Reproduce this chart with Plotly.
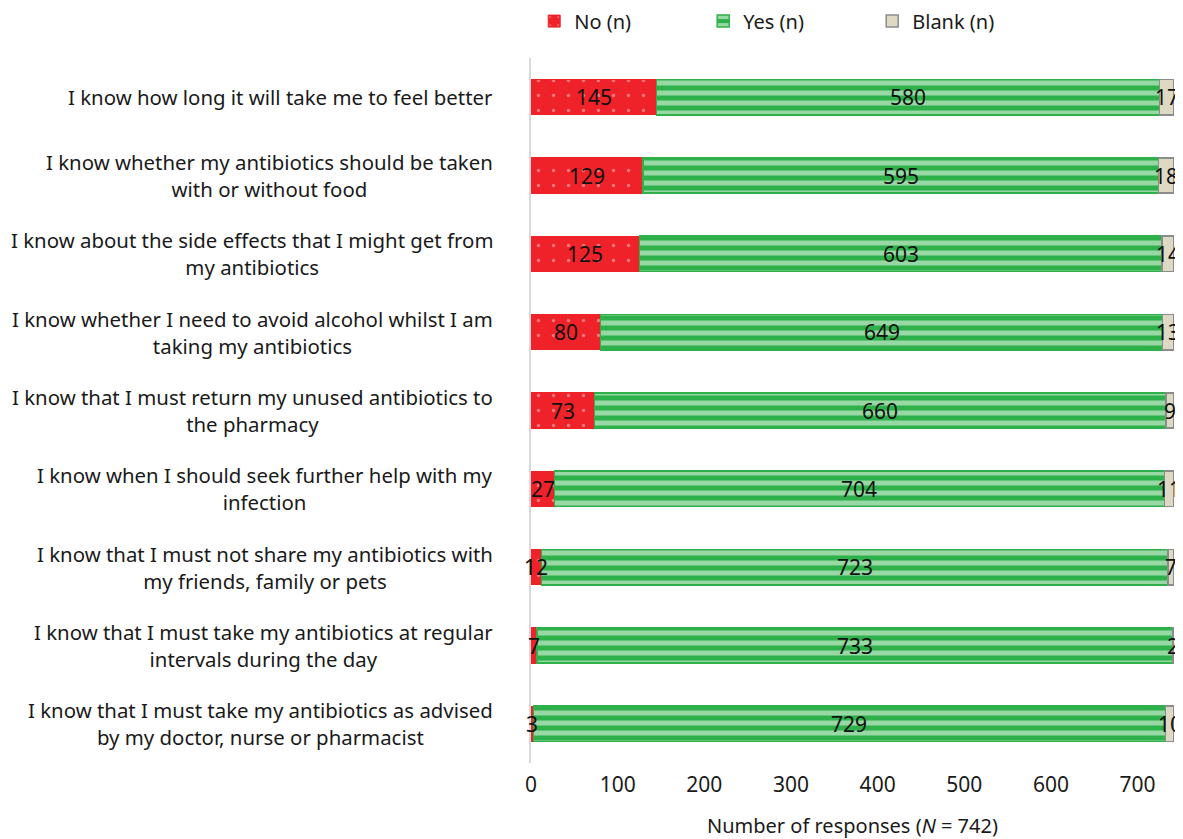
import plotly.graph_objects as go

categories = [
    "I know how long it will take me to feel better",
    "I know whether my antibiotics should be taken<br>with or without food",
    "I know about the side effects that I might get from<br>my antibiotics",
    "I know whether I need to avoid alcohol whilst I am<br>taking my antibiotics",
    "I know that I must return my unused antibiotics to<br>the pharmacy",
    "I know when I should seek further help with my<br>infection",
    "I know that I must not share my antibiotics with<br>my friends, family or pets",
    "I know that I must take my antibiotics at regular<br>intervals during the day",
    "I know that I must take my antibiotics as advised<br>by my doctor, nurse or pharmacist",
]
no_vals = [145, 129, 125, 80, 73, 27, 12, 7, 3]
yes_vals = [580, 595, 603, 649, 660, 704, 723, 733, 729]
blank_vals = [17, 18, 14, 13, 9, 11, 7, 2, 10]
x_ticks = [0, 100, 200, 300, 400, 500, 600, 700]

FONT = "Noto Sans"
TXT = "#1a1a1a"
RED = "#ee2228"
GREEN = "#2eb04a"
BEIGE = "#ddd9c3"

ids = list(range(len(categories)))

fig = go.Figure()
fig.add_trace(go.Bar(
    y=ids, x=no_vals, orientation="h", name="No (n)",
    marker=dict(color=RED, line=dict(color=RED, width=1),
                pattern=dict(shape=".", fgcolor="#fbd0d0", bgcolor=RED, size=15, solidity=0.04)),
    width=0.45, hoverinfo="x",
))
fig.add_trace(go.Bar(
    y=ids, x=yes_vals, orientation="h", name="Yes (n)",
    marker=dict(color=GREEN, line=dict(color=GREEN, width=1.5),
                pattern=dict(shape="-", fgcolor="white", bgcolor=GREEN, size=10, solidity=0.5)),
    width=0.45, hoverinfo="x",
))
fig.add_trace(go.Bar(
    y=ids, x=blank_vals, orientation="h", name="Blank (n)",
    marker=dict(color=BEIGE, line=dict(color="#8c8c8c", width=1.5)),
    width=0.45, hoverinfo="x",
))

# value labels at segment midpoints (annotations so they are not clipped)
for i in ids:
    n, y, b = no_vals[i], yes_vals[i], blank_vals[i]
    for xv, t in ((n / 2, n), (n + y / 2, y), (n + y + b / 2, b)):
        fig.add_annotation(
            x=xv, y=i, xref="x", yref="y", text=str(t), showarrow=False,
            font=dict(family=FONT, size=21, color="#111111"),
        )

# category labels (centered multi-line, right anchored)
for i, c in enumerate(categories):
    fig.add_annotation(
        x=0, xref="paper", y=i, yref="y", text=c, showarrow=False,
        xanchor="right", xshift=-36, align="center",
        font=dict(family=FONT, size=20.4, color=TXT),
    )

fig.update_layout(
    barmode="stack",
    width=1175, height=831,
    margin=dict(l=523, r=9, t=50, b=76, autoexpand=False),
    plot_bgcolor="white", paper_bgcolor="white",
    font=dict(family=FONT, size=20, color=TXT),
    legend=dict(orientation="h", x=0.005, y=1.08, xanchor="left", yanchor="top",
                entrywidth=124, entrywidthmode="pixels", traceorder="normal",
                font=dict(family=FONT, size=20, color=TXT)),
    xaxis=dict(range=[0, 742], tickvals=x_ticks, showgrid=False, zeroline=False,
               showline=False, ticks="", ticklabelstandoff=7,
               tickfont=dict(family=FONT, size=21, color=TXT),
               title=dict(text="Number of responses (<i>N</i> = 742)", standoff=22,
                          font=dict(family=FONT, size=20, color=TXT))),
    yaxis=dict(range=[8.5, -0.5], showticklabels=False, showgrid=False, zeroline=False,
               showline=True, linecolor="#d9d9d9", linewidth=2, ticks="", layer="below traces"),
)

fig.write_html("out.html")
